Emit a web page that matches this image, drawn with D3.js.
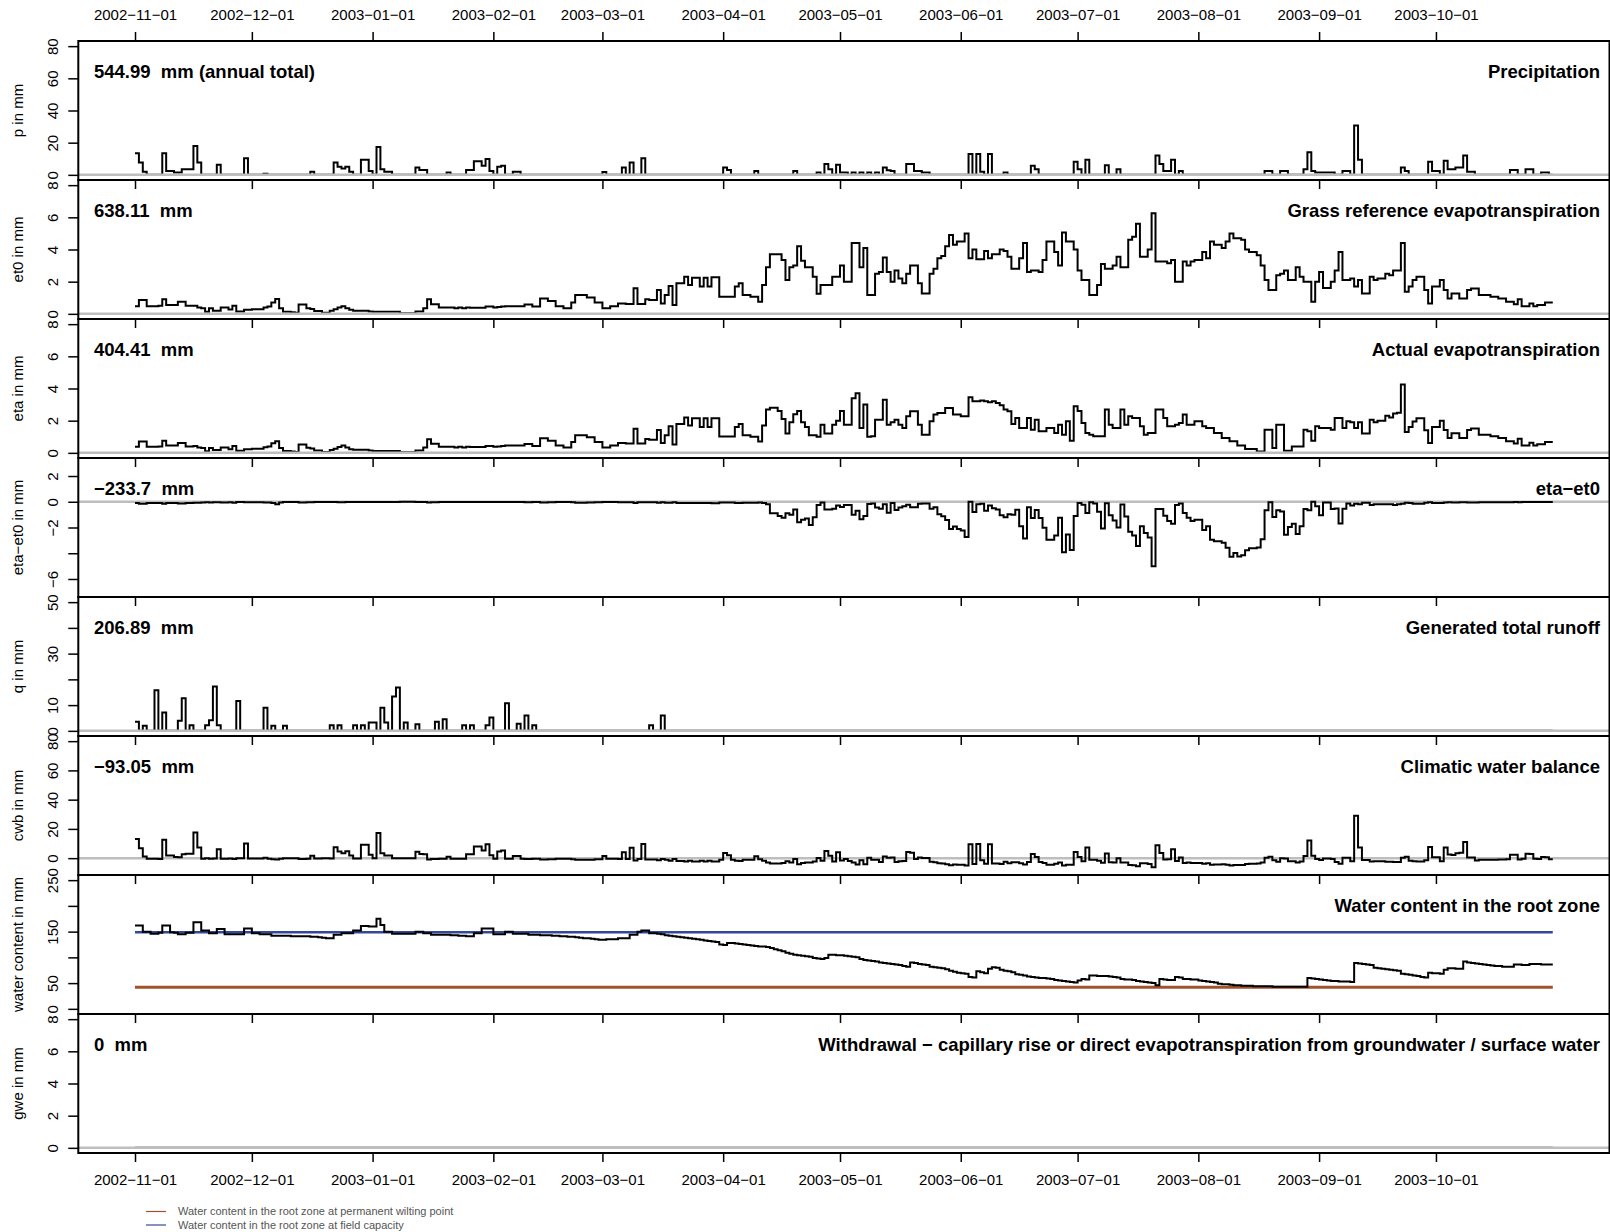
<!DOCTYPE html>
<html>
<head>
<meta charset="utf-8">
<script src="https://cdn.jsdelivr.net/npm/d3@7"></script>
<style>
  body { margin: 0; background: #fff; }
  svg text { font-family: "Liberation Sans", Arial, Helvetica, sans-serif; }
</style>
</head>
<body>
<svg id="chart" width="1610" height="1232"></svg>
<script>
// daily water balance, 2002-11-01 .. 2003-10-31 (365 days)
const startDay = "2002-11-01";
const monthTicks = ["2002-11-01","2002-12-01","2003-01-01","2003-02-01","2003-03-01","2003-04-01",
  "2003-05-01","2003-06-01","2003-07-01","2003-08-01","2003-09-01","2003-10-01"];

// precipitation, only days with rain (day index, mm)
const rainDay = [0,1,2,7,8,9,10,11,12,13,14,15,16,21,28,33,45,51,52,53,54,55,58,59,60,62,63,64,65,72,
  73,74,80,85,86,87,88,89,90,91,93,94,97,98,120,125,127,130,151,152,159,169,175,177,178,180,181,182,184,186,
  188,190,192,193,194,198,199,200,201,202,203,214,216,217,219,223,230,231,241,242,244,249,252,262,263,264,265,266,268,290,
  291,294,295,300,301,302,303,304,305,306,307,310,311,313,314,325,326,332,333,334,336,337,338,339,340,341,342,343,353,354,
  357,358,361,362];
const rainMm = [13.5,7.7,2,13.5,2.4,2.4,1.4,1.4,3.5,3.5,3.5,18,7.7,6.3,10.3,0.7,2,7.7,5,3.9,5,2,9.4,9.4,2.4,17.3,3.5,2,2,4.6,
  3,3,1.4,3,3,8.4,8.4,5.6,9.9,2.4,5,5.6,2,2,1.8,4.6,7.7,10.3,4.6,3,2.4,2.4,1.4,6.7,3.5,6.3,1.4,1.4,1.4,1.4,
  1.4,1.4,4.6,2.9,2.4,6.7,6.7,2.4,2.4,1.4,1.4,13,13,2,13,1.4,5.6,3.5,8.2,3.5,9.4,6,3.5,12,6.7,2.4,2.4,9.4,2.4,2.4,
  2.4,2.4,2.4,3.5,14,2.4,1.4,1.4,1.4,1.4,1.4,2.4,2.4,30.7,9.4,4.6,2.4,8.2,2.4,2.4,8.8,3.5,3.5,4.6,4.6,12,2,2,3,3,
  3.5,3.5,1.4,1.4];

// generated runoff, only days with runoff
const runoffDay = [0,2,5,7,11,12,14,18,19,20,21,26,33,35,38,50,52,56,58,60,61,63,64,66,67,69,72,77,79,84,86,90,91,95,98,100,102,132,135];
const runoffMm = [3.5,2,15.8,7.1,3.9,12.7,2.2,2.2,4.1,17.2,2.2,11.6,9,2,2,2.2,2.2,2.2,2.2,3.2,3.2,9,3.2,13.3,16.8,3.2,2.6,3.5,4.5,2.2,2.2,2.2,5.2,10.7,2.8,6,2.2,2.2,6];

// grass reference evapotranspiration (mm/day)
const et0 = [
  0.48,0.86,0.86,0.48,0.48,0.48,0.5,0.9,0.55,0.55,0.55,0.75,0.75,0.5,0.5,0.5,0.4,0.35,0.13,0.35,0.2,0.2,0.4,0.4,0.27,0.5,0.15,0.15,0.25,0.25,
  0.28,0.28,0.28,0.4,0.45,0.7,0.92,0.35,0.13,0.13,0.1,0.07,0.58,0.58,0.35,0.3,0.17,0.17,0.07,0.07,0.2,0.28,0.4,0.48,0.35,0.25,0.2,0.2,0.2,0.2,
  0.15,0.13,0.13,0.13,0.13,0.13,0.13,0.13,0.03,0.03,0.03,0.03,0.15,0.15,0.35,0.9,0.6,0.6,0.4,0.4,0.4,0.4,0.35,0.4,0.35,0.4,0.38,0.38,0.38,0.38,
  0.45,0.45,0.4,0.42,0.45,0.48,0.48,0.48,0.48,0.48,0.58,0.58,0.45,0.45,0.95,0.95,0.8,0.8,0.48,0.48,0.35,0.35,0.7,1.17,1.17,1.17,1.02,1.02,0.7,0.7,
  0.35,0.35,0.48,0.48,0.65,0.65,0.61,0.61,1.59,0.61,0.61,0.9,0.86,0.86,1.49,0.65,1.17,1.73,0.55,1.9,1.9,2.3,1.8,2.25,2.25,1.7,2.25,1.7,2.27,2.27,
  1.07,1.07,1.07,1.07,1.7,1.9,1.17,1.17,1.07,1.07,0.75,1.8,2.9,3.7,3.7,3.7,3.35,2.1,2.9,3.0,4.2,3.3,2.9,2.9,2.3,1.25,1.8,1.8,1.8,2.3,
  2.3,3.0,2.0,2.0,4.4,4.4,2.9,4.1,1.17,1.17,2.5,2.6,3.5,2.6,2.0,2.7,2.2,1.9,2.5,3.0,3.0,1.9,1.27,1.27,2.5,2.8,3.45,3.6,4.2,4.9,
  4.3,4.5,4.5,5.0,3.45,4.0,3.4,3.4,3.9,3.45,3.7,3.7,4.0,3.9,3.55,2.8,2.8,3.45,4.4,2.6,2.7,2.7,2.6,3.35,4.5,4.5,3.85,3.0,5.05,4.5,
  4.5,4.0,2.7,2.1,2.1,1.17,1.17,1.8,3.1,2.8,2.8,3.0,3.55,2.9,2.9,4.6,4.8,5.6,3.55,3.55,4.0,6.25,3.25,3.25,3.25,3.15,3.35,2.0,2.0,3.25,
  3.0,3.25,3.35,3.35,3.85,3.45,4.5,4.3,4.3,4.1,4.5,5.0,4.7,4.7,4.6,4.0,3.85,3.85,3.65,3.0,2.1,1.48,1.48,2.4,2.5,2.7,2.1,2.1,2.9,2.3,
  2.0,2.0,0.75,2.0,2.6,1.6,1.6,2.0,2.7,3.85,2.1,2.1,2.2,1.7,2.1,1.27,1.27,2.3,2.1,2.2,2.2,2.5,2.4,2.7,2.7,4.4,1.38,1.7,2.1,2.3,
  2.3,1.48,0.65,1.7,1.7,2.1,1.48,0.96,1.27,1.27,0.96,0.96,1.48,1.58,1.58,1.17,1.17,1.17,1.07,1.07,0.96,0.96,0.75,0.75,0.6,0.9,0.48,0.48,0.65,0.48,
  0.55,0.55,0.7,0.7,0.7];

// actual evapotranspiration (mm/day)
const eta = [
  0.38,0.7,0.7,0.38,0.38,0.38,0.4,0.75,0.45,0.45,0.45,0.62,0.62,0.4,0.4,0.42,0.33,0.3,0.1,0.3,0.17,0.17,0.34,0.34,0.23,0.43,0.13,0.13,0.22,0.22,
  0.25,0.25,0.25,0.35,0.4,0.6,0.72,0.3,0.12,0.12,0.09,0.06,0.52,0.52,0.32,0.27,0.15,0.15,0.06,0.06,0.18,0.26,0.37,0.45,0.33,0.23,0.19,0.19,0.19,0.19,
  0.14,0.12,0.12,0.12,0.12,0.12,0.12,0.12,0.03,0.03,0.03,0.03,0.14,0.14,0.33,0.85,0.57,0.57,0.38,0.38,0.38,0.38,0.33,0.38,0.33,0.38,0.36,0.36,0.36,0.36,
  0.43,0.43,0.38,0.4,0.43,0.46,0.46,0.46,0.46,0.46,0.55,0.55,0.43,0.43,0.9,0.9,0.76,0.76,0.46,0.46,0.33,0.33,0.67,1.1,1.1,1.1,0.97,0.97,0.67,0.67,
  0.33,0.33,0.46,0.46,0.62,0.62,0.58,0.58,1.5,0.58,0.58,0.86,0.82,0.82,1.42,0.62,1.1,1.65,0.52,1.8,1.8,2.2,1.7,2.15,2.15,1.6,2.15,1.6,2.15,2.15,
  1.02,1.02,1.02,1.02,1.6,1.8,1.1,1.1,1.0,1.0,0.7,1.7,2.7,2.8,2.8,2.6,2.1,1.2,1.9,2.4,2.6,1.9,1.6,1.1,1.1,1.0,1.75,1.2,1.2,1.75,
  2.0,2.6,1.75,1.75,3.4,3.7,1.55,3.0,1.0,1.03,2.06,2.06,3.3,1.75,1.9,2.06,1.75,1.55,2.27,2.58,2.58,1.75,1.13,1.13,1.96,2.38,2.48,2.48,2.79,2.79,
  2.38,2.38,2.27,2.27,3.45,3.2,3.2,3.25,3.2,3.15,3.2,3.1,2.96,2.7,2.58,1.8,2.17,1.55,1.55,2.17,1.44,2.06,1.34,1.34,1.55,1.55,1.23,1.75,1.13,1.96,
  0.76,2.9,2.6,1.86,1.23,1.13,1.03,1.03,1.03,2.69,1.75,1.55,1.55,2.69,1.75,2.27,2.17,2.17,1.65,1.13,1.23,1.23,2.69,2.69,2.17,1.65,1.65,1.75,1.86,2.38,
  1.75,1.75,1.96,1.96,1.65,1.55,1.55,1.23,1.23,0.92,0.92,0.72,0.72,0.45,0.45,0.24,0.24,0.24,0.09,0.09,1.44,1.44,0.3,1.75,1.75,0.13,0.13,0.4,0.4,0.4,
  1.44,1.34,0.75,1.65,1.55,1.55,1.55,1.44,2.17,2.17,1.55,1.96,1.9,1.55,1.9,1.2,1.2,2.05,1.9,2.0,2.0,2.3,2.2,2.45,2.5,4.25,1.3,1.6,1.95,2.15,
  2.15,1.4,0.62,1.6,1.6,2.0,1.42,0.92,1.22,1.22,0.92,0.92,1.42,1.52,1.52,1.13,1.13,1.13,1.03,1.03,0.93,0.93,0.72,0.72,0.58,0.87,0.46,0.46,0.63,0.46,
  0.53,0.53,0.68,0.68,0.68];

// water content in the root zone (mm)
const waterContent = [
  162,162,150,150,146,146,148,162,162,149,148,145,145,148,148,168,168,152,152,147,
  147,155,155,145,145,145,145,145,156,156,147,147,145,145,145,142,142,142,142,142,
  141,141,141,141,141,140,140,139,138,137,137,144,144,147,147,147,152,152,161,161,
  160,160,175,163,150,150,146,146,146,146,146,146,150,150,147,147,144,144,144,144,
  144,143,143,142,142,141,141,147,147,156,156,156,145,145,145,150,150,146,146,146,
  146,144,144,144,143,143,143,142,142,141,141,140,140,139,138,137,137,136,135,134,
  134,135,135,135,137,137,137,144,144,150,152,152,147,147,146,145,143,142,141,140,
  139,138,137,136,135,134,133,132,131,130,125,124,128,128,127,126,125,124,123,122,
  121,121,120,118,116,114,112,109,107,105,104,103,102,101,99,98,97,99,105,105,
  104,104,103,102,101,100,97,95,94,93,92,90,89,88,87,86,85,83,82,90,
  89,87,86,85,82,81,80,79,77,74,72,70,69,68,62,61,73,71,69,78,
  81,80,76,74,73,71,67,66,65,63,62,61,60,60,59,58,56,55,54,53,
  52,51,55,58,57,65,65,64,64,64,63,62,61,58,57,57,56,54,53,52,
  51,50,46,58,57,56,56,62,61,58,58,57,57,55,54,53,52,51,49,48,
  48,47,46,46,45,45,45,44,44,44,44,44,43,43,43,43,43,43,43,43,
  43,60,59,58,57,56,55,54,54,53,53,53,52,89,88,87,86,85,80,79,
  78,77,76,75,74,68,67,66,65,64,62,61,70,69,69,68,76,79,79,78,
  78,92,90,89,88,87,86,85,84,83,83,82,82,82,86,86,85,85,87,87,
  87,86,86,86,86];
const fieldCapacity = 149;
const wiltingPoint = 42;

const yTitles = ["p in mm","et0 in mm","eta in mm","eta\u2212et0 in mm","q in mm","cwb in mm","water content in mm","gwe in mm"];
const totals = ["544.99  mm (annual total)","638.11  mm","404.41  mm","\u2212233.7  mm","206.89  mm","\u221293.05  mm","","0  mm"];
const titles = ["Precipitation","Grass reference evapotranspiration","Actual evapotranspiration","eta\u2212et0",
  "Generated total runoff","Climatic water balance","Water content in the root zone",
  "Withdrawal \u2212 capillary rise or direct evapotranspiration from groundwater / surface water"];
const yLimits = [[0,80],[0,8],[0,8],[-7,3],[0,50],[-8,80],[0,250],[0,8]];
const yTicks = [[0,20,40,60,80],[0,2,4,6,8],[0,2,4,6,8],[-6,-4,-2,0,2],[0,10,20,30,40,50],[0,20,40,60,80],[0,50,100,150,200,250],[0,2,4,6,8]];
const yTickLabels = [[0,20,40,60,80],[0,2,4,6,8],[0,2,4,6,8],[-6,-2,0,2],[0,10,30,50],[0,20,40,60,80],[0,50,150,250],[0,2,4,6,8]];
const legendItems = ["Water content in the root zone at permanent wilting point","Water content in the root zone at field capacity"];

// ---- build daily series
const nDays = 365;
const precip = new Array(nDays).fill(0);
rainDay.forEach((d, i) => precip[d] = rainMm[i]);
const runoff = new Array(nDays).fill(0);
runoffDay.forEach((d, i) => runoff[d] = runoffMm[i]);
const etaMinusEt0 = eta.map((v, i) => v - et0[i]);
const cwb = precip.map((v, i) => v - et0[i]);
const withdrawal = new Array(nDays).fill(0);
const series = [precip, et0, eta, etaMinusEt0, runoff, cwb, waterContent, withdrawal];

// ---- layout
const width = 1610;
const left = 78.3, right = 1609.5, top0 = 41, panelH = 139, nPanels = 8;
const grey = "#bebebe";
const colFC = "#33489a", colPWP = "#a0522d";

const parse = d3.utcParse("%Y-%m-%d");
const t0 = parse(startDay);
const days = d3.range(nDays).map(i => d3.utcDay.offset(t0, i));
const span = +days[nDays - 1] - +t0;
const x = d3.scaleUtc()
  .domain([new Date(+t0 - span * 0.04), new Date(+days[nDays - 1] + span * 0.04)])
  .range([left, right]);
const tickDates = monthTicks.map(parse);
const fmtDate = d => d3.utcFormat("%Y-%m-%d")(d).replace(/-/g, "\u2212");

const svg = d3.select("#chart");
svg.append("rect").attr("width", width).attr("height", 1232).attr("fill", "#fff");

series.forEach((vals, k) => {
  const top = top0 + k * panelH, bottom = top + panelH;
  const [lo, hi] = yLimits[k];
  const ext = (hi - lo) * 0.04;
  const y = d3.scaleLinear().domain([lo - ext, hi + ext]).range([bottom, top]);
  const g = svg.append("g");

  const zeroLine = () => g.append("line").attr("x1", left).attr("x2", right)
    .attr("y1", y(0)).attr("y2", y(0))
    .attr("stroke", grey).attr("stroke-width", 2.5);
  // differences: the zero line sits under the curve
  const zeroBelow = (k === 3 || k === 5);
  if (zeroBelow) zeroLine();

  if (k === 6) {
    // reference levels in the root zone
    g.append("line").attr("x1", x(days[0])).attr("x2", x(days[nDays - 1]))
      .attr("y1", y(wiltingPoint)).attr("y2", y(wiltingPoint))
      .attr("stroke", colPWP).attr("stroke-width", 3);
    g.append("line").attr("x1", x(days[0])).attr("x2", x(days[nDays - 1]))
      .attr("y1", y(fieldCapacity)).attr("y2", y(fieldCapacity))
      .attr("stroke", colFC).attr("stroke-width", 2.5);
  }

  const line = d3.line()
    .x((d, i) => x(days[i]))
    .y(d => y(d))
    .curve(d3.curveStepAfter);
  g.append("path").attr("d", line(vals))
    .attr("fill", "none").attr("stroke", "#000").attr("stroke-width", 2);

  if (k !== 6 && !zeroBelow) zeroLine();

  // left axis with rotated labels
  const labs = yTickLabels[k];
  const ax = g.append("g").attr("transform", `translate(${left},0)`)
    .call(d3.axisLeft(y).tickValues(yTicks[k]).tickSize(10)
      .tickFormat(v => labs.includes(v) ? d3.format("d")(v) : ""));
  ax.select(".domain").remove();
  ax.selectAll(".tick line").attr("stroke", "#000").attr("stroke-width", 1.5);
  ax.selectAll(".tick text")
    .attr("x", 0).attr("y", -26).attr("dy", "0.35em")
    .attr("transform", "rotate(-90)")
    .attr("text-anchor", "middle")
    .attr("font-size", 15).attr("fill", "#000")
    .style("font-family", '"Liberation Sans", Arial, sans-serif');

  // axis title
  const ym = (top + bottom) / 2;
  g.append("text").attr("transform", `translate(18,${ym}) rotate(-90)`)
    .attr("text-anchor", "middle").attr("dy", "0.35em")
    .attr("font-size", 15).text(yTitles[k]);

  // totals and titles
  g.append("text").attr("x", 94).attr("y", top + 37)
    .attr("font-size", 18.5).attr("font-weight", "bold")
    .style("white-space", "pre").text(totals[k]);
  g.append("text").attr("x", 1600).attr("y", top + 37)
    .attr("text-anchor", "end")
    .attr("font-size", 18.5).attr("font-weight", "bold").text(titles[k]);

  // panel box
  g.append("rect").attr("x", left).attr("y", top)
    .attr("width", right - left).attr("height", panelH)
    .attr("fill", "none").attr("stroke", "#000").attr("stroke-width", 2);
});

// x axes: labels on top and bottom, ticks at every panel boundary
const axTop = svg.append("g").attr("transform", `translate(0,${top0})`)
  .call(d3.axisTop(x).tickValues(tickDates).tickSize(9).tickPadding(12).tickFormat(fmtDate));
for (let k = 1; k <= nPanels; k++) {
  const a = svg.append("g").attr("transform", `translate(0,${top0 + k * panelH})`)
    .call(d3.axisBottom(x).tickValues(tickDates).tickSize(9).tickPadding(12)
      .tickFormat(k === nPanels ? fmtDate : () => ""));
  a.select(".domain").remove();
  a.selectAll(".tick line").attr("stroke", "#000").attr("stroke-width", 1.5);
  a.selectAll(".tick text").attr("font-size", 15).attr("fill", "#000")
    .style("font-family", '"Liberation Sans", Arial, sans-serif');
}
axTop.select(".domain").remove();
axTop.selectAll(".tick line").attr("stroke", "#000").attr("stroke-width", 1.5);
axTop.selectAll(".tick text").attr("font-size", 15).attr("fill", "#000")
  .style("font-family", '"Liberation Sans", Arial, sans-serif');

// legend
const lg = svg.append("g");
[colPWP, colFC].forEach((c, i) => {
  const yy = 1211.5 + i * 13.5;
  lg.append("line").attr("x1", 146).attr("x2", 166).attr("y1", yy).attr("y2", yy)
    .attr("stroke", c).attr("stroke-width", 1.2);
  lg.append("text").attr("x", 178).attr("y", yy).attr("dy", "0.35em")
    .attr("font-size", 11).attr("fill", "#555").text(legendItems[i]);
});
</script>
</body>
</html>
